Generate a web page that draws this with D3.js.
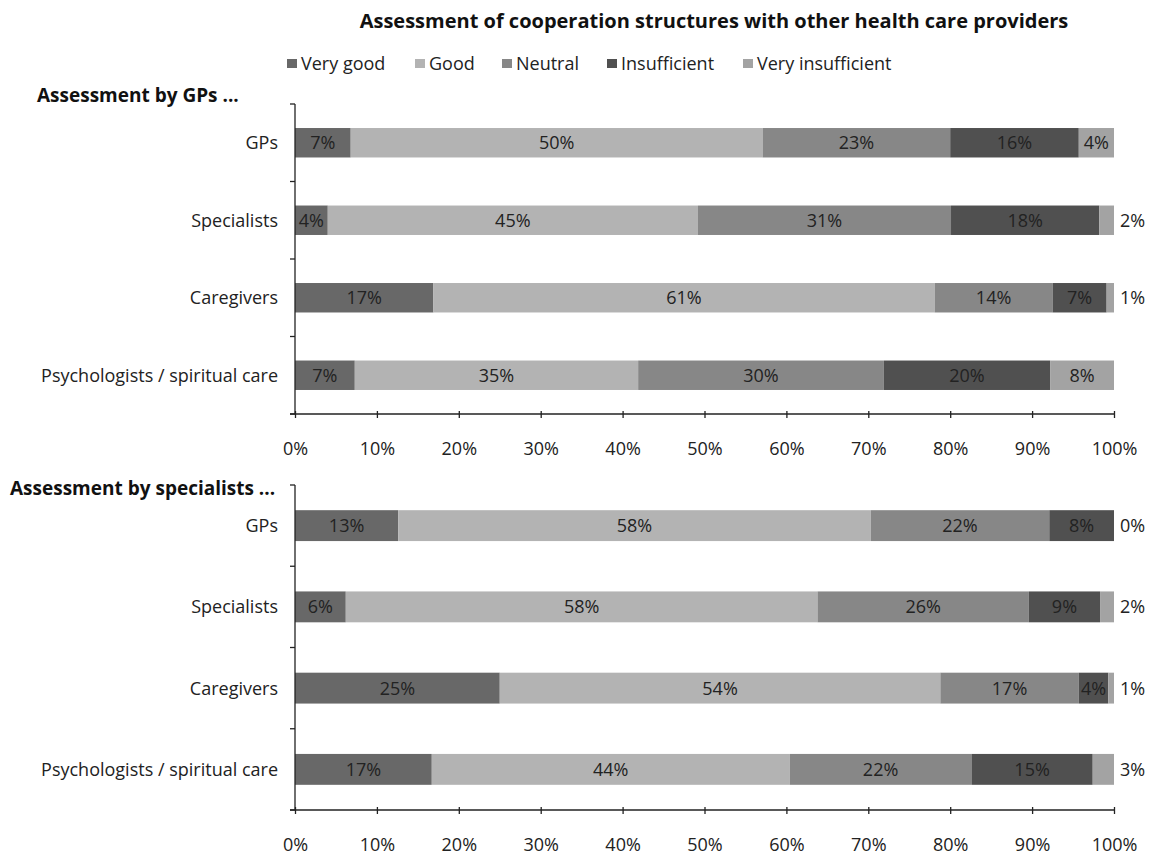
<!DOCTYPE html>
<html>
<head>
<meta charset="utf-8">
<script src="https://cdn.jsdelivr.net/npm/d3@7"></script>
<style>
  html, body { margin: 0; padding: 0; background: #fff; }
  svg { display: block; font-family: "Open Sans", sans-serif; }
</style>
</head>
<body>
<svg id="chart" width="1151" height="855"></svg>
<script>
// Rating categories (stack order, left to right)
const ratings = ["Very good", "Good", "Neutral", "Insufficient", "Very insufficient"];
const ratingColors = ["#686868", "#b3b3b3", "#878787", "#505050", "#a3a3a3"];

// Providers being assessed
const providers = ["GPs", "Specialists", "Caregivers", "Psychologists / spiritual care"];

// Shares (%) given by GPs, one array per provider, in rating order
const byGPs_GPs = [6.8, 50.3, 22.9, 15.7, 4.3];
const byGPs_Specialists = [4.0, 45.2, 30.9, 18.1, 1.8];
const byGPs_Caregivers = [16.9, 61.2, 14.4, 6.6, 0.9];
const byGPs_Psychologists = [7.3, 34.6, 30.0, 20.3, 7.8];

// Shares (%) given by specialists
const bySpec_GPs = [12.6, 57.7, 21.8, 7.9, 0.0];
const bySpec_Specialists = [6.2, 57.6, 25.8, 8.7, 1.7];
const bySpec_Caregivers = [25.0, 53.8, 16.9, 3.6, 0.7];
const bySpec_Psychologists = [16.7, 43.7, 22.2, 14.8, 2.6];

// Axis ticks
const xTicks = [0, 10, 20, 30, 40, 50, 60, 70, 80, 90, 100];

const panels = [
  { title: "Assessment by GPs ...", rows: [byGPs_GPs, byGPs_Specialists, byGPs_Caregivers, byGPs_Psychologists],
    top: 104, bottom: 414, titleX: 37, titleY: 102 },
  { title: "Assessment by specialists ...", rows: [bySpec_GPs, bySpec_Specialists, bySpec_Caregivers, bySpec_Psychologists],
    top: 485, bottom: 810, titleX: 10, titleY: 495 }
];

const svg = d3.select("#chart");
const plotLeft = 295, plotRight = 1114;
const x = d3.scaleLinear().domain([0, 100]).range([plotLeft, plotRight]);
const fmt = v => d3.format(".0f")(v) + "%";
const labelSize = 18;

// Title
svg.append("text")
  .attr("x", 714).attr("y", 28)
  .attr("text-anchor", "middle")
  .attr("font-weight", "bold")
  .attr("font-size", 20)
  .attr("fill", "#111")
  .text("Assessment of cooperation structures with other health care providers");

// Legend
const legendX = [287, 415, 502, 607, 743];
const legend = svg.append("g");
ratings.forEach((r, i) => {
  const g = legend.append("g").attr("transform", `translate(${legendX[i]},70)`);
  g.append("rect").attr("x", 0).attr("y", -11).attr("width", 10).attr("height", 9).attr("fill", ratingColors[i]);
  g.append("text").attr("x", 14).attr("y", 0).attr("font-size", 18).attr("fill", "#222").text(r);
});

panels.forEach(p => {
  const stacked = p.rows.map((vals, ri) => {
    let acc = 0;
    return vals.map((v, si) => {
      const seg = { provider: providers[ri], series: si, value: v, x0: acc, x1: acc + v };
      acc += v;
      return seg;
    });
  });

  const y = d3.scaleBand().domain(providers).range([p.top, p.bottom]).paddingInner(0.62).paddingOuter(0.31);
  const yEdges = d3.scalePoint().domain(d3.range(providers.length + 1)).range([p.top, p.bottom]);

  const g = svg.append("g");

  // Panel heading
  svg.append("text")
    .attr("x", p.titleX).attr("y", p.titleY)
    .attr("font-weight", "bold").attr("font-size", 19).attr("fill", "#111")
    .text(p.title);

  // Bars
  stacked.forEach(row => {
    g.selectAll(null).data(row).enter().append("rect")
      .attr("x", d => x(d.x0))
      .attr("y", d => y(d.provider))
      .attr("width", d => Math.max(0, x(d.x1) - x(d.x0)))
      .attr("height", y.bandwidth())
      .attr("fill", d => ratingColors[d.series]);

    const outside = d => d.series === ratings.length - 1 && d.value < 4;
    g.selectAll(null).data(row).enter().append("text")
      .attr("x", d => outside(d) ? plotRight + 6 : x((d.x0 + d.x1) / 2))
      .attr("y", d => y(d.provider) + y.bandwidth() / 2)
      .attr("dy", "0.36em")
      .attr("text-anchor", d => outside(d) ? "start" : "middle")
      .attr("font-size", labelSize)
      .attr("fill", "#222")
      .text(d => fmt(d.value));
  });

  // Category axis with ticks at band boundaries
  g.append("line")
    .attr("x1", plotLeft).attr("x2", plotLeft)
    .attr("y1", p.top).attr("y2", p.bottom)
    .attr("stroke", "#222").attr("stroke-width", 1.3);
  g.selectAll(null).data(d3.range(providers.length + 1)).enter().append("line")
    .attr("x1", plotLeft - 5).attr("x2", plotLeft)
    .attr("y1", d => yEdges(d)).attr("y2", d => yEdges(d))
    .attr("stroke", "#222").attr("stroke-width", 1.3);
  g.selectAll(null).data(providers).enter().append("text")
    .attr("x", 278)
    .attr("y", d => y(d) + y.bandwidth() / 2)
    .attr("dy", "0.36em")
    .attr("text-anchor", "end")
    .attr("font-size", labelSize)
    .attr("fill", "#222")
    .text(d => d);

  // Percentage axis
  const xAxis = d3.axisBottom(x).tickValues(xTicks).tickFormat(d => d + "%").tickSize(0);
  const ax = g.append("g").attr("transform", `translate(0,${p.bottom})`).call(xAxis);
  ax.select(".domain").attr("stroke", "#222").attr("stroke-width", 1.3).attr("d", `M${plotLeft - 5},0H${plotRight}`);
  ax.selectAll(".tick line").remove();
  ax.selectAll(".tick").append("line")
    .attr("y1", -3).attr("y2", 4)
    .attr("stroke", "#222").attr("stroke-width", 1.3);
  ax.selectAll(".tick text")
    .attr("y", 35)
    .attr("dy", "0.36em")
    .attr("font-size", labelSize)
    .attr("font-family", "'Open Sans', sans-serif")
    .attr("fill", "#222");
});
</script>
</body>
</html>
